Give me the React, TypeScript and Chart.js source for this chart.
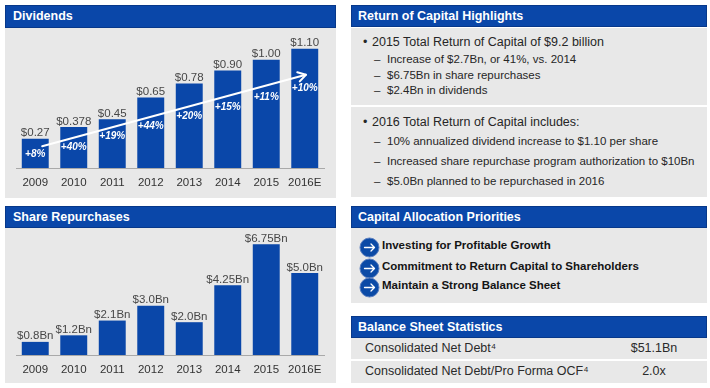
import React, { useEffect, useRef } from "react";
import { Chart, registerables } from "chart.js";
Chart.register(...registerables);

const years = ["2009", "2010", "2011", "2012", "2013", "2014", "2015", "2016E"];
const dividendValues = [0.27, 0.378, 0.45, 0.65, 0.78, 0.9, 1.0, 1.1];
const dividendLabels = ["$0.27", "$0.378", "$0.45", "$0.65", "$0.78", "$0.90", "$1.00", "$1.10"];
const dividendGrowth = ["+8%", "+40%", "+19%", "+44%", "+20%", "+15%", "+11%", "+10%"];
const dividendGrowthLevels = [0.13, 0.195, 0.295, 0.39, 0.48, 0.565, 0.655, 0.74];
const trendArrowFrom = [0.18, 0.2];
const trendArrowTo = [7.03, 0.86];
const repurchaseValues = [0.8, 1.2, 2.1, 3.0, 2.0, 4.25, 6.75, 5.0];
const repurchaseLabels = ["$0.8Bn", "$1.2Bn", "$2.1Bn", "$3.0Bn", "$2.0Bn", "$4.25Bn", "$6.75Bn", "$5.0Bn"];

const highlights2015 = [
  "Increase of $2.7Bn, or 41%, vs. 2014",
  "$6.75Bn in share repurchases",
  "$2.4Bn in dividends",
];
const highlights2016 = [
  "10% annualized dividend increase to $1.10 per share",
  "Increased share repurchase program authorization to $10Bn",
  "$5.0Bn planned to be repurchased in 2016",
];
const priorities = [
  "Investing for Profitable Growth",
  "Commitment to Return Capital to Shareholders",
  "Maintain a Strong Balance Sheet",
];
const balanceRows = [
  ["Consolidated Net Debt", "$51.1Bn"],
  ["Consolidated Net Debt/Pro Forma OCF", "2.0x"],
];

const BLUE = "#0a47a9";
const GRAY = "#e8e8e8";
const FONT = "'Liberation Sans', Arial, Helvetica, sans-serif";

type ChartProps = {
  values: number[];
  labels: string[];
  yMax: number;
  top: number;
  width: number;
  height: number;
  padTop: number;
  axisHeight: number;
  growth?: string[];
  growthLevels?: number[];
  arrow?: boolean;
};

function BarPanelChart(p: ChartProps) {
  const ref = useRef<HTMLCanvasElement>(null);
  useEffect(() => {
    const annot = {
      id: "annot",
      afterDatasetsDraw(chart: any) {
        const ctx = chart.ctx as CanvasRenderingContext2D;
        const xs = chart.scales.x;
        const ys = chart.scales.y;
        const meta = chart.getDatasetMeta(0);
        ctx.save();
        ctx.font = `11.5px ${FONT}`;
        ctx.fillStyle = "#474747";
        ctx.textAlign = "center";
        ctx.textBaseline = "alphabetic";
        meta.data.forEach((bar: any, i: number) => {
          ctx.fillText(p.labels[i], bar.x, bar.y - 2.5);
        });
        if (p.arrow) {
          const x1 = xs.getPixelForValue(trendArrowFrom[0]);
          const y1 = ys.getPixelForValue(trendArrowFrom[1]);
          const x2 = xs.getPixelForValue(trendArrowTo[0]);
          const y2 = ys.getPixelForValue(trendArrowTo[1]);
          ctx.strokeStyle = "#ffffff";
          ctx.lineWidth = 2;
          ctx.lineCap = "round";
          ctx.lineJoin = "round";
          ctx.beginPath();
          ctx.moveTo(x1, y1);
          ctx.lineTo(x2, y2);
          ctx.stroke();
          const ang = Math.atan2(y2 - y1, x2 - x1);
          const L = 9;
          ctx.beginPath();
          ctx.moveTo(x2 - L * Math.cos(ang - 0.55), y2 - L * Math.sin(ang - 0.55));
          ctx.lineTo(x2, y2);
          ctx.lineTo(x2 - L * Math.cos(ang + 0.55), y2 - L * Math.sin(ang + 0.55));
          ctx.stroke();
        }
        if (p.growth && p.growthLevels) {
          ctx.font = `italic bold 10px ${FONT}`;
          ctx.fillStyle = "#ffffff";
          ctx.textBaseline = "middle";
          meta.data.forEach((bar: any, i: number) => {
            ctx.fillText(p.growth![i], bar.x, ys.getPixelForValue(p.growthLevels![i]));
          });
        }
        ctx.restore();
      },
    };
    const chart = new Chart(ref.current as HTMLCanvasElement, {
      type: "bar",
      data: {
        labels: years,
        datasets: [
          {
            data: p.values,
            backgroundColor: BLUE,
            barPercentage: 0.7,
            categoryPercentage: 1,
          },
        ],
      },
      options: {
        animation: false,
        responsive: false,
        events: [],
        layout: { padding: { left: 11, right: 12, top: p.padTop, bottom: 0 } },
        plugins: { legend: { display: false }, tooltip: { enabled: false } },
        scales: {
          x: {
            grid: { display: false, drawTicks: false },
            border: { display: true, color: "#a9a9a9", width: 1 },
            ticks: {
              color: "#333333",
              font: { family: FONT, size: 11.5 },
              padding: 8,
              autoSkip: false,
              maxRotation: 0,
            },
            afterFit: (s: any) => {
              s.height = p.axisHeight;
            },
          },
          y: { display: false, min: 0, max: p.yMax },
        },
      } as any,
      plugins: [annot],
    });
    return () => chart.destroy();
  }, []);
  return (
    <canvas
      ref={ref}
      width={p.width}
      height={p.height}
      style={{ position: "absolute", left: 5, top: p.top, width: p.width, height: p.height }}
    />
  );
}

function Header(props: { left: number; top: number; width: number; height: number; text: string; pad: number }) {
  return (
    <div
      style={{
        position: "absolute",
        left: props.left,
        top: props.top,
        width: props.width,
        height: props.height,
        background: BLUE,
        border: "1px solid #07388a",
        boxSizing: "border-box",
        color: "#ffffff",
        font: `bold 12.5px ${FONT}`,
        lineHeight: `${props.height - 2}px`,
        paddingLeft: props.pad,
        whiteSpace: "nowrap",
      }}
    >
      {props.text}
    </div>
  );
}

function Box(props: { left: number; top: number; width: number; height: number; bg?: string }) {
  return (
    <div
      style={{
        position: "absolute",
        left: props.left,
        top: props.top,
        width: props.width,
        height: props.height,
        background: props.bg || GRAY,
      }}
    />
  );
}

function Line(props: { left: number; cy: number; size: number; text: React.ReactNode; bold?: boolean; color?: string }) {
  const h = 16;
  return (
    <div
      style={{
        position: "absolute",
        left: props.left,
        top: props.cy - h / 2,
        height: h,
        lineHeight: `${h}px`,
        font: `${props.bold ? "bold " : ""}${props.size}px ${FONT}`,
        color: props.color || "#262626",
        whiteSpace: "nowrap",
      }}
    >
      {props.text}
    </div>
  );
}

function CircleArrow(props: { cx: number; cy: number }) {
  const r = 9.5;
  return (
    <svg
      width={2 * r + 2}
      height={2 * r + 2}
      style={{ position: "absolute", left: props.cx - r - 1, top: props.cy - r - 1 }}
    >
      <circle cx={r + 1} cy={r + 1} r={r} fill="#0b4aa6" stroke="#5b7fc0" strokeWidth={1} />
      <path
        d={`M ${r + 1 - 5} ${r + 1} L ${r + 1 + 5} ${r + 1} M ${r + 1 + 1.5} ${r + 1 - 3.5} L ${r + 1 + 5} ${r + 1} L ${r + 1 + 1.5} ${r + 1 + 3.5}`}
        stroke="#ffffff"
        strokeWidth={1.3}
        fill="none"
        strokeLinecap="round"
        strokeLinejoin="round"
      />
    </svg>
  );
}

export default function App() {
  const sub1Y = [61, 77, 92];
  const sub2Y = [143, 163, 183];
  const prioY = [247, 268, 287];
  const rowY = [349, 372];
  return (
    <div
      style={{
        position: "fixed",
        left: 0,
        top: 0,
        width: 710,
        height: 388,
        background: "#ffffff",
        overflow: "hidden",
        fontFamily: FONT,
      }}
    >
      {/* Dividends */}
      <Header left={5} top={5} width={331} height={23} text="Dividends" pad={7} />
      <Box left={5} top={28} width={331} height={170} />
      <BarPanelChart
        values={dividendValues}
        labels={dividendLabels}
        yMax={1.2}
        top={28}
        width={331}
        height={170}
        padTop={10}
        axisHeight={30}
        growth={dividendGrowth}
        growthLevels={dividendGrowthLevels}
        arrow
      />

      {/* Share Repurchases */}
      <Header left={5} top={206} width={331} height={22} text="Share Repurchases" pad={7} />
      <Box left={5} top={228} width={331} height={155} />
      <BarPanelChart
        values={repurchaseValues}
        labels={repurchaseLabels}
        yMax={7.5}
        top={228}
        width={331}
        height={155}
        padTop={4}
        axisHeight={28}
      />

      {/* Return of Capital Highlights */}
      <Header left={351} top={5} width={356} height={22} text="Return of Capital Highlights" pad={6} />
      <Box left={351} top={28} width={356} height={77} />
      <Box left={351} top={107} width={356} height={90} />
      <Line left={363} cy={43} size={12.5} text="•" />
      <Line left={372} cy={43} size={12.5} text="2015 Total Return of Capital of $9.2 billion" />
      {highlights2015.map((t, i) => (
        <React.Fragment key={"a" + i}>
          <Line left={374} cy={sub1Y[i]} size={11.5} text="–" />
          <Line left={387} cy={sub1Y[i]} size={11.5} text={t} />
        </React.Fragment>
      ))}
      <Line left={363} cy={123} size={12.5} text="•" />
      <Line left={372} cy={123} size={12.5} text="2016 Total Return of Capital includes:" />
      {highlights2016.map((t, i) => (
        <React.Fragment key={"b" + i}>
          <Line left={374} cy={sub2Y[i]} size={11.5} text="–" />
          <Line left={387} cy={sub2Y[i]} size={11.5} text={t} />
        </React.Fragment>
      ))}

      {/* Capital Allocation Priorities */}
      <Header left={351} top={206} width={356} height={22} text="Capital Allocation Priorities" pad={6} />
      <Box left={351} top={228} width={356} height={75} />
      {priorities.map((t, i) => (
        <React.Fragment key={"p" + i}>
          <CircleArrow cx={369.5} cy={prioY[i]} />
          <Line left={382} cy={prioY[i]} size={11.5} bold color="#141414" text={t} />
        </React.Fragment>
      ))}

      {/* Balance Sheet Statistics */}
      <Header left={351} top={316} width={356} height={22} text="Balance Sheet Statistics" pad={6} />
      <Box left={351} top={338} width={356} height={21} />
      <Box left={351} top={361} width={356} height={22} />
      {balanceRows.map((r, i) => (
        <React.Fragment key={"r" + i}>
          <Line left={365} cy={rowY[i]} size={12.5} color="#2a2a2a" text={r[0] + "⁴"} />
          <div
            style={{
              position: "absolute",
              left: 604,
              width: 100,
              top: rowY[i] - 8,
              height: 16,
              lineHeight: "16px",
              textAlign: "center",
              font: `12.5px ${FONT}`,
              color: "#2a2a2a",
            }}
          >
            {r[1]}
          </div>
        </React.Fragment>
      ))}
    </div>
  );
}
